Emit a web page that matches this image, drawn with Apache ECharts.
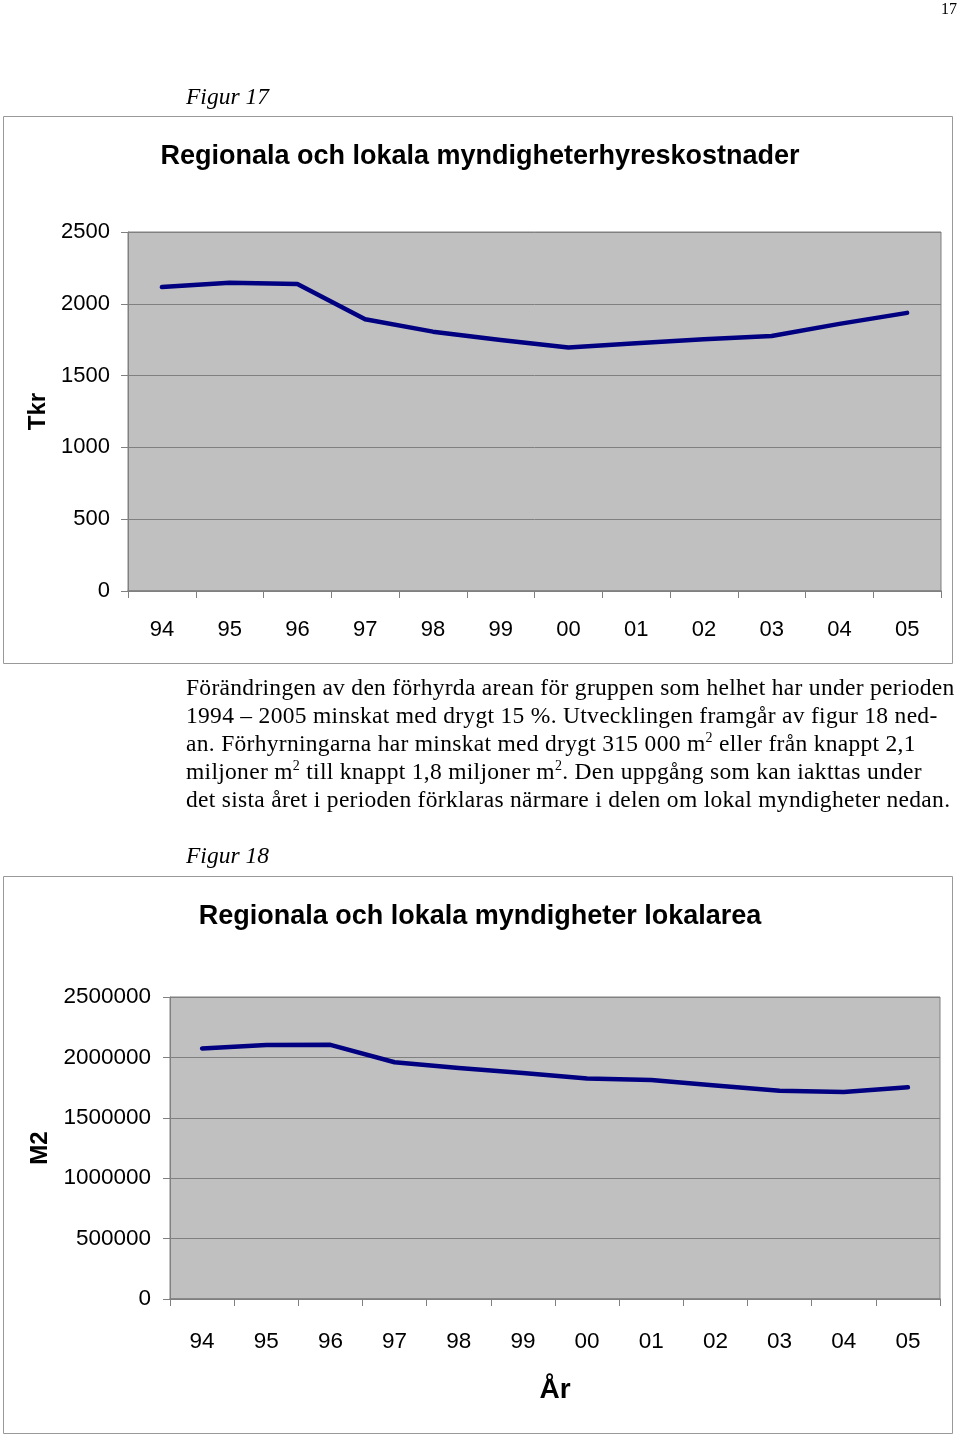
<!DOCTYPE html>
<html>
<head>
<meta charset="utf-8">
<script src="https://cdn.jsdelivr.net/npm/echarts@6/dist/echarts.min.js"></script>
<style>
  html, body { margin: 0; padding: 0; background: #fff; }
  #page { position: relative; width: 960px; height: 1438px; overflow: hidden; }
  #chart { position: absolute; left: 0; top: 0; width: 960px; height: 1438px; }
  .txt { position: absolute; font-family: "Liberation Serif", "Times New Roman", serif; color: #000; white-space: nowrap; z-index: 2; }
  .fig { font-style: italic; font-size: 23.5px; line-height: 28px; }
  .para { font-size: 23.5px; line-height: 28px; letter-spacing: 0.3px; }
  sup { font-size: 14px; line-height: 0; vertical-align: 0; position: relative; top: -9px; }
</style>
</head>
<body>
<div id="page">
  <div id="chart"></div>
  <div class="txt" style="right:3px; top:0px; font-size:16px; line-height:18px;">17</div>
  <div class="txt fig" style="left:186px; top:82px;">Figur 17</div>
  <div class="txt para" style="left:186px; top:673px;">
    Förändringen av den förhyrda arean för gruppen som helhet har under perioden<br>
    1994 – 2005 minskat med drygt 15 %. Utvecklingen framgår av figur 18 ned-<br>
    an. Förhyrningarna har minskat med drygt 315 000 m<sup>2</sup> eller från knappt 2,1<br>
    miljoner m<sup>2</sup> till knappt 1,8 miljoner m<sup>2</sup>. Den uppgång som kan iakttas under<br>
    det sista året i perioden förklaras närmare i delen om lokal myndigheter nedan.
  </div>
  <div class="txt fig" style="left:186px; top:841px;">Figur 18</div>
</div>
<script>
// ---- data ----
const years = ['94', '95', '96', '97', '98', '99', '00', '01', '02', '03', '04', '05'];
const hyreskostnader = [2117, 2147, 2138, 1892, 1806, 1748, 1695, 1725, 1753, 1776, 1860, 1937];
const lokalarea = [2074000, 2103000, 2104000, 1960000, 1912000, 1871000, 1826000, 1813000, 1768000, 1724000, 1714000, 1752000];
const yTicks1 = [0, 500, 1000, 1500, 2000, 2500];
const yTicks2 = [0, 500000, 1000000, 1500000, 2000000, 2500000];
const title1 = 'Regionala och lokala myndigheterhyreskostnader';
const title2 = 'Regionala och lokala myndigheter lokalarea';
const yName1 = 'Tkr';
const yName2 = 'M2';
const xName2 = 'År';

// ---- font detection (narrow sans for tick labels) ----
function hasFont(name) {
  const c = document.createElement('canvas').getContext('2d');
  c.font = '40px monospace';
  const a = c.measureText('2500000 År').width;
  c.font = '40px "' + name + '", monospace';
  return Math.abs(c.measureText('2500000 År').width - a) > 0.5;
}
const narrow = hasFont('Liberation Sans Narrow');
const tickFont = narrow ? '"Liberation Sans Narrow", "Liberation Sans", Arial, sans-serif' : '"Liberation Sans", Arial, sans-serif';
const tick1 = narrow ? 25 : 22;
const tick2 = narrow ? 28 : 22.5;
const sans = '"Liberation Sans", Arial, sans-serif';

const gridColor = '#808080';
const plotBg = '#c0c0c0';
const lineColor = '#000080';

function yAxisCfg(gridIndex, ticks, size, margin, name, gap) {
  return {
    type: 'value', gridIndex: gridIndex,
    min: ticks[0], max: ticks[ticks.length - 1], interval: ticks[1] - ticks[0],
    name: name, nameLocation: 'middle', nameGap: gap, nameRotate: 90,
    nameTextStyle: { fontFamily: sans, fontWeight: 'bold', fontSize: 24, color: '#000' },
    axisLine: { show: true, lineStyle: { color: gridColor, width: 1 } },
    axisTick: { show: true, length: 7, lineStyle: { color: gridColor } },
    axisLabel: { fontFamily: tickFont, fontSize: size, color: '#000', margin: margin,
      formatter: function (v) { return String(v); } },
    splitLine: { show: true, lineStyle: { color: gridColor, width: 1 } }
  };
}
function xAxisCfg(gridIndex, size, margin, name, gap) {
  return {
    type: 'category', gridIndex: gridIndex, data: years, boundaryGap: true,
    name: name, nameLocation: 'middle', nameGap: gap,
    nameTextStyle: { fontFamily: tickFont, fontWeight: 'bold', fontSize: 28, color: '#000' },
    axisLine: { show: true, lineStyle: { color: gridColor, width: 1.5 } },
    axisTick: { show: true, length: 7, lineStyle: { color: gridColor } },
    axisLabel: { fontFamily: tickFont, fontSize: size, color: '#000', margin: margin, interval: 0 },
    splitLine: { show: false }
  };
}

const chart = echarts.init(document.getElementById('chart'), null, { renderer: 'canvas' });
chart.setOption({
  animation: false,
  backgroundColor: 'transparent',
  title: [
    { text: title1, left: 'center', top: 143, padding: 0,
      textStyle: { fontFamily: sans, fontWeight: 'bold', fontSize: 27, color: '#000' } },
    { text: title2, left: 'center', top: 903, padding: 0,
      textStyle: { fontFamily: sans, fontWeight: 'bold', fontSize: 27, color: '#000' } }
  ],
  graphic: [
    { type: 'rect', shape: { x: 3.5, y: 116.5, width: 949, height: 547 },
      style: { fill: 'none', stroke: '#999', lineWidth: 1 }, z: -10 },
    { type: 'rect', shape: { x: 3.5, y: 876.5, width: 949, height: 557 },
      style: { fill: 'none', stroke: '#999', lineWidth: 1 }, z: -10 }
  ],
  grid: [
    { left: 128, top: 232, width: 813, height: 359, show: true, backgroundColor: plotBg, borderColor: gridColor, borderWidth: 1 },
    { left: 170, top: 997, width: 770, height: 302, show: true, backgroundColor: plotBg, borderColor: gridColor, borderWidth: 1 }
  ],
  xAxis: [
    xAxisCfg(0, tick1, 28, '', 0),
    xAxisCfg(1, tick2, 31, xName2, 77)
  ],
  yAxis: [
    yAxisCfg(0, yTicks1, tick1, 18, yName1, 72),
    yAxisCfg(1, yTicks2, tick2, 19, yName2, 102)
  ],
  series: [
    { type: 'line', xAxisIndex: 0, yAxisIndex: 0, data: hyreskostnader, showSymbol: false, symbol: 'none',
      lineStyle: { color: lineColor, width: 4.5, cap: 'round', join: 'round' } },
    { type: 'line', xAxisIndex: 1, yAxisIndex: 1, data: lokalarea, showSymbol: false, symbol: 'none',
      lineStyle: { color: lineColor, width: 4.5, cap: 'round', join: 'round' } }
  ]
});
</script>
</body>
</html>
